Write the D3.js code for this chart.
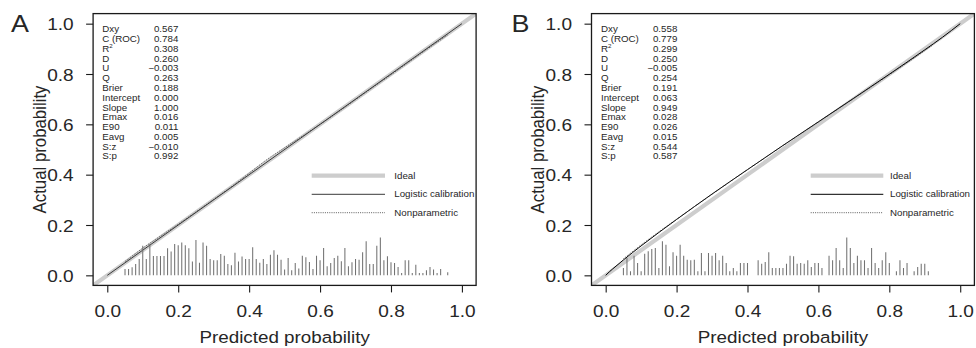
<!DOCTYPE html>
<html><head><meta charset="utf-8">
<script src="https://cdn.jsdelivr.net/npm/d3@7"></script>
<style>body{margin:0;background:#fff} svg{display:block} text{font-family:"Liberation Sans",Arial,Helvetica,sans-serif}</style>
</head><body><svg id="chart" width="976" height="348"></svg>
<script>
// ---------- data ----------
const panelLetters = ["A", "B"];
const tickValues = [0, 0.2, 0.4, 0.6, 0.8, 1.0];
const xTitle = "Predicted probability";
const yTitle = "Actual probability";
const statLabels = ["Dxy","C (ROC)","R","D","U","Q","Brier","Intercept","Slope","Emax","E90","Eavg","S:z","S:p"];
const statsA = ["0.567","0.784","0.308","0.260","\u22120.003","0.263","0.188","0.000","1.000","0.016","0.011","0.005","\u22120.010","0.992"];
const statsB = ["0.558","0.779","0.299","0.250","\u22120.005","0.254","0.191","0.063","0.949","0.028","0.026","0.015","0.544","0.587"];
const legendLabels = ["Ideal","Logistic calibration","Nonparametric"];

const idealLine = [[-0.04,-0.04],[1.04,1.04]];
const logisticA = [[0,0],[1,1]];
const logisticB = [[0,0],[0.01,0.0134],[0.02,0.0258],[0.05,0.0612],[0.1,0.117],[0.2,0.222],[0.3,0.323],[0.4,0.420],[0.5,0.516],[0.6,0.610],[0.7,0.704],[0.8,0.799],[0.9,0.896],[0.95,0.946],[1,1]];
const nonparA = [[0.05,0.055],[0.1,0.108],[0.15,0.156],[0.2,0.203],[0.25,0.252],[0.3,0.302],[0.35,0.352],[0.4,0.406],[0.45,0.46],[0.5,0.507],[0.55,0.553],[0.6,0.6],[0.65,0.648],[0.7,0.698],[0.75,0.748],[0.8,0.797],[0.85,0.847],[0.9,0.897],[0.96,0.955]];
const nonparB = [[0.05,0.066],[0.1,0.121],[0.15,0.173],[0.2,0.223],[0.3,0.322],[0.4,0.42],[0.5,0.515],[0.6,0.609],[0.7,0.703],[0.8,0.797],[0.9,0.893],[0.92,0.913]];

const spikesA = [[0.05,0.025],[0.06,0.025],[0.07,0.032],[0.08,0.045],[0.09,0.065],[0.10,0.118],[0.11,0.065],[0.12,0.125],[0.13,0.077],[0.14,0.077],[0.15,0.077],[0.16,0.077],[0.17,0.108],[0.18,0.095],[0.19,0.125],[0.20,0.12],[0.21,0.13],[0.22,0.12],[0.23,0.108],[0.24,0.055],[0.25,0.14],[0.26,0.05],[0.27,0.13],[0.28,0.118],[0.29,0.065],[0.30,0.06],[0.31,0.06],[0.32,0.085],[0.33,0.078],[0.34,0.045],[0.35,0.04],[0.36,0.09],[0.37,0.055],[0.38,0.075],[0.39,0.065],[0.40,0.065],[0.41,0.112],[0.42,0.065],[0.43,0.05],[0.44,0.065],[0.45,0.045],[0.46,0.082],[0.47,0.10],[0.48,0.082],[0.49,0.062],[0.50,0.023],[0.51,0.069],[0.52,0.02],[0.53,0.049],[0.54,0.027],[0.55,0.078],[0.56,0.072],[0.57,0.053],[0.58,0.025],[0.59,0.078],[0.60,0.06],[0.61,0.109],[0.62,0.036],[0.63,0.049],[0.64,0.069],[0.65,0.078],[0.66,0.056],[0.67,0.109],[0.68,0.036],[0.69,0.052],[0.70,0.065],[0.71,0.062],[0.72,0.092],[0.73,0.135],[0.74,0.045],[0.75,0.045],[0.76,0.118],[0.77,0.15],[0.78,0.06],[0.79,0.076],[0.80,0.052],[0.81,0.049],[0.82,0.033],[0.83,0.009],[0.84,0.06],[0.85,0.06],[0.86,0.009],[0.87,0.042],[0.88,0.009],[0.89,0.009],[0.90,0.02],[0.91,0.033],[0.92,0.023],[0.93,0.009],[0.94,0.025],[0.96,0.012]];
const spikesB = [[0.05,0.029],[0.06,0.069],[0.07,0.016],[0.08,0.078],[0.09,0.049],[0.10,0.016],[0.11,0.086],[0.12,0.096],[0.13,0.105],[0.14,0.109],[0.15,0.029],[0.16,0.135],[0.17,0.122],[0.18,0.036],[0.19,0.092],[0.20,0.078],[0.21,0.122],[0.22,0.078],[0.23,0.062],[0.24,0.06],[0.25,0.062],[0.26,0.016],[0.27,0.089],[0.28,0.016],[0.29,0.089],[0.30,0.078],[0.31,0.089],[0.32,0.06],[0.33,0.078],[0.34,0.049],[0.35,0.016],[0.36,0.029],[0.37,0.016],[0.38,0.049],[0.39,0.049],[0.40,0.049],[0.43,0.06],[0.44,0.046],[0.45,0.053],[0.46,0.092],[0.47,0.029],[0.48,0.029],[0.49,0.029],[0.50,0.029],[0.51,0.046],[0.52,0.078],[0.53,0.076],[0.54,0.046],[0.55,0.049],[0.56,0.046],[0.57,0.06],[0.58,0.033],[0.59,0.049],[0.60,0.049],[0.61,0.029],[0.63,0.078],[0.64,0.06],[0.65,0.109],[0.66,0.06],[0.67,0.029],[0.68,0.15],[0.69,0.109],[0.70,0.049],[0.71,0.078],[0.72,0.06],[0.73,0.06],[0.74,0.029],[0.75,0.109],[0.76,0.049],[0.77,0.029],[0.78,0.06],[0.79,0.092],[0.80,0.049],[0.82,0.016],[0.83,0.06],[0.84,0.029],[0.85,0.049],[0.87,0.016],[0.88,0.033],[0.89,0.046],[0.90,0.046],[0.91,0.016]];

// ---------- layout ----------
const SX = 1.12;            // horizontal stretch of the original raster
const TXT = "#262626";
const svg = d3.select("#chart");
const yScale = d3.scaleLinear().domain([-0.04, 1.04]).range([285.4, 13.6]);

const panels = [
  {letter: panelLetters[0], xr:[93.1,476.1], stats: statsA, logistic: logisticA, nonpar: nonparA, spikes: spikesA,
   logColor:"#3a3a3a", statX:[102.3,178.3], legX:[311.7,385,394.3], letterX: 11},
  {letter: panelLetters[1], xr:[591.5,974.4], stats: statsB, logistic: logisticB, nonpar: nonparB, spikes: spikesB,
   logColor:"#000", statX:[601,677.3], legX:[810.7,883.3,890], letterX: 511.5}
];

function sText(g, x, y, str, size, anchor, rot) {
  return g.append("text")
    .attr("transform", `translate(${x},${y}) scale(${SX},1)` + (rot ? ` rotate(${rot})` : ""))
    .attr("font-size", size).attr("text-anchor", anchor || "start").attr("fill", TXT)
    .text(str);
}

panels.forEach((P, pi) => {
  const x = d3.scaleLinear().domain([-0.04, 1.04]).range(P.xr);
  const g = svg.append("g");
  const clipId = "clip" + pi;
  svg.append("clipPath").attr("id", clipId).append("rect")
    .attr("x", x(-0.04)).attr("y", yScale(1.04))
    .attr("width", x(1.04) - x(-0.04)).attr("height", yScale(-0.04) - yScale(1.04));
  const inner = g.append("g").attr("clip-path", `url(#${clipId})`);
  const line = d3.line().x(d => x(d[0])).y(d => yScale(d[1]));

  // ideal
  inner.append("path").attr("d", line(idealLine)).attr("fill","none")
    .attr("stroke","#cdcdcd").attr("stroke-width",4.2);
  // logistic calibration
  inner.append("path").attr("d", line.curve(d3.curveMonotoneX)(P.logistic)).attr("fill","none")
    .attr("stroke",P.logColor).attr("stroke-width",1);
  // nonparametric
  inner.append("path").attr("d", line.curve(d3.curveMonotoneX)(P.nonpar)).attr("fill","none")
    .attr("stroke","#333").attr("stroke-width",0.8).attr("stroke-dasharray","1,1.2");
  // spikes
  inner.selectAll("line.spike").data(P.spikes).join("line").attr("class","spike")
    .attr("x1", d => x(d[0])).attr("x2", d => x(d[0]))
    .attr("y1", yScale(0)).attr("y2", d => yScale(d[1]))
    .attr("stroke","#727272").attr("stroke-width",1.05);

  // frame
  g.append("rect").attr("x", x(-0.04)).attr("y", yScale(1.04))
    .attr("width", x(1.04) - x(-0.04)).attr("height", yScale(-0.04) - yScale(1.04))
    .attr("fill","none").attr("stroke","#1a1a1a").attr("stroke-width",1.3);

  // axes
  const fmt = d3.format(".1f");
  const ax = g.append("g").attr("transform", `translate(0,${yScale(-0.04)})`)
    .call(d3.axisBottom(x).tickValues(tickValues).tickSize(7).tickFormat(fmt));
  ax.select(".domain").remove();
  ax.selectAll(".tick line").attr("stroke","#1a1a1a").attr("stroke-width",1.1);
  ax.selectAll("text").attr("y", null).attr("dy", null)
    .attr("transform", `translate(0,32) scale(${SX},1)`)
    .attr("font-size", 17).attr("fill", TXT).attr("font-family", null);

  const ay = g.append("g").attr("transform", `translate(${x(-0.04)},0)`)
    .call(d3.axisLeft(yScale).tickValues(tickValues).tickSize(7).tickFormat(fmt));
  ay.select(".domain").remove();
  ay.selectAll(".tick line").attr("stroke","#1a1a1a").attr("stroke-width",1.1);
  ay.selectAll("text").attr("x", null).attr("dy", null)
    .attr("transform", `translate(-19.5,6.1) scale(${SX},1)`)
    .attr("font-size", 17).attr("fill", TXT).attr("font-family", null);
  ax.attr("font-family", null); ay.attr("font-family", null);

  // titles
  const cx = (x(-0.04) + x(1.04)) / 2;
  sText(g, cx, 343, xTitle, 16.8, "middle");
  sText(g, x(0) - 61.5, (yScale(-0.04) + yScale(1.04)) / 2, yTitle, 16.8, "middle", -90);
  sText(g, P.letterX, 32, P.letter, 24, "start");

  // stats block
  statLabels.forEach((lab, i) => {
    const yy = 32.3 + 9.78 * i;
    const t = sText(g, P.statX[0], yy, lab, 8.7, "start");
    if (lab === "R") t.append("tspan").attr("dy", -3.6).attr("font-size", 5.5).text("2");
    sText(g, P.statX[1], yy, P.stats[i], 8.7, "end");
  });

  // legend
  const legY = [175.7, 194.3, 212.7];
  const lg = g.append("g");
  lg.append("line").attr("x1", P.legX[0]).attr("x2", P.legX[1]).attr("y1", legY[0]).attr("y2", legY[0])
    .attr("stroke","#cdcdcd").attr("stroke-width",4.2);
  lg.append("line").attr("x1", P.legX[0]).attr("x2", P.legX[1]).attr("y1", legY[1]).attr("y2", legY[1])
    .attr("stroke",P.logColor).attr("stroke-width",1);
  lg.append("line").attr("x1", P.legX[0]).attr("x2", P.legX[1]).attr("y1", legY[2]).attr("y2", legY[2])
    .attr("stroke","#333").attr("stroke-width",0.8).attr("stroke-dasharray","1,1.2");
  legendLabels.forEach((lab, i) => sText(lg, P.legX[2], legY[i] + 2.9, lab, 8.7, "start"));
});
</script></body></html>
